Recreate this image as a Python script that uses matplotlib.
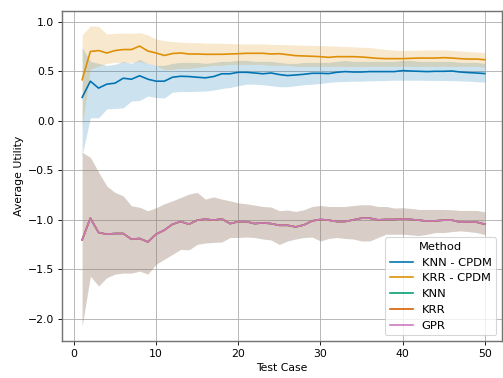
import numpy as np
import matplotlib
matplotlib.use("Agg")
import matplotlib.pyplot as plt

# test cases
test_case = list(range(1, 51))

# KNN - CPDM: mean, lower, upper
knn_cpdm = [0.236, 0.40, 0.33, 0.37, 0.38, 0.43, 0.42, 0.455, 0.42, 0.40,
            0.40, 0.44, 0.45, 0.447, 0.44, 0.434, 0.447, 0.475, 0.475, 0.49,
            0.49, 0.483, 0.475, 0.483, 0.467, 0.457, 0.463, 0.47, 0.48, 0.48,
            0.477, 0.49, 0.497, 0.493, 0.493, 0.497, 0.497, 0.497, 0.497, 0.507,
            0.503, 0.50, 0.497, 0.50, 0.50, 0.503, 0.493, 0.487, 0.483, 0.477]
knn_cpdm_lo = [-0.35, 0.03, 0.03, 0.12, 0.125, 0.13, 0.20, 0.205, 0.25, 0.235,
               0.23, 0.29, 0.295, 0.295, 0.298, 0.30, 0.31, 0.326, 0.336, 0.354,
               0.37, 0.37, 0.364, 0.354, 0.344, 0.344, 0.354, 0.364, 0.37, 0.377,
               0.388, 0.394, 0.397, 0.40, 0.40, 0.403, 0.405, 0.407, 0.41, 0.41,
               0.41, 0.41, 0.408, 0.408, 0.407, 0.405, 0.403, 0.40, 0.395, 0.39]
knn_cpdm_hi = [0.74, 0.60, 0.58, 0.56, 0.57, 0.60, 0.58, 0.62, 0.58, 0.56,
               0.56, 0.58, 0.59, 0.59, 0.59, 0.58, 0.59, 0.60, 0.60, 0.61,
               0.61, 0.60, 0.60, 0.60, 0.59, 0.58, 0.58, 0.59, 0.59, 0.59,
               0.59, 0.60, 0.61, 0.60, 0.60, 0.60, 0.60, 0.60, 0.60, 0.61,
               0.61, 0.60, 0.60, 0.60, 0.60, 0.60, 0.59, 0.59, 0.59, 0.58]

# KRR - CPDM: mean, lower, upper
krr_cpdm = [0.415, 0.70, 0.71, 0.685, 0.71, 0.72, 0.72, 0.755, 0.705, 0.685,
            0.66, 0.68, 0.685, 0.675, 0.675, 0.672, 0.672, 0.672, 0.675, 0.678,
            0.682, 0.682, 0.682, 0.675, 0.678, 0.668, 0.658, 0.655, 0.652, 0.648,
            0.641, 0.648, 0.648, 0.648, 0.645, 0.638, 0.631, 0.628, 0.628, 0.628,
            0.631, 0.634, 0.634, 0.634, 0.638, 0.634, 0.628, 0.624, 0.624, 0.617]
krr_cpdm_lo = [-0.07, 0.52, 0.55, 0.58, 0.59, 0.59, 0.59, 0.60, 0.58, 0.56,
               0.52, 0.52, 0.53, 0.53, 0.54, 0.55, 0.56, 0.56, 0.57, 0.57,
               0.57, 0.57, 0.57, 0.56, 0.56, 0.56, 0.55, 0.55, 0.55, 0.55,
               0.55, 0.55, 0.55, 0.55, 0.55, 0.55, 0.55, 0.55, 0.55, 0.55,
               0.55, 0.55, 0.55, 0.55, 0.55, 0.55, 0.55, 0.55, 0.55, 0.54]
krr_cpdm_hi = [0.867, 0.958, 0.955, 0.877, 0.884, 0.887, 0.884, 0.891, 0.867, 0.826,
               0.81, 0.80, 0.795, 0.79, 0.79, 0.785, 0.785, 0.783, 0.78, 0.778,
               0.776, 0.776, 0.776, 0.772, 0.77, 0.768, 0.766, 0.764, 0.762, 0.76,
               0.757, 0.754, 0.75, 0.747, 0.743, 0.74, 0.73, 0.72, 0.715, 0.71,
               0.712, 0.714, 0.716, 0.716, 0.716, 0.712, 0.705, 0.70, 0.695, 0.69]

# baseline methods (KNN, KRR, GPR overlap almost exactly)
base_mean = [-1.204, -0.985, -1.13, -1.147, -1.14, -1.14, -1.198, -1.19, -1.225, -1.147,
             -1.106, -1.046, -1.019, -1.046, -1.005, -0.995, -1.005, -0.992, -1.04, -1.02,
             -1.02, -1.04, -1.032, -1.04, -1.057, -1.057, -1.073, -1.053, -1.012, -0.998,
             -1.005, -1.019, -1.019, -1.002, -0.985, -0.985, -1.002, -0.998, -0.998, -0.992,
             -0.998, -1.005, -1.015, -1.012, -1.005, -1.005, -1.025, -1.022, -1.025, -1.046]
base_lo = [-2.075, -1.57, -1.67, -1.586, -1.55, -1.54, -1.54, -1.52, -1.55, -1.45,
           -1.40, -1.35, -1.30, -1.305, -1.25, -1.235, -1.23, -1.225, -1.18, -1.18,
           -1.175, -1.18, -1.195, -1.205, -1.25, -1.215, -1.195, -1.18, -1.175, -1.215,
           -1.19, -1.18, -1.19, -1.195, -1.215, -1.215, -1.18, -1.147, -1.147, -1.147,
           -1.153, -1.16, -1.147, -1.13, -1.13, -1.12, -1.113, -1.12, -1.13, -1.15]
base_hi = [-0.32, -0.37, -0.52, -0.66, -0.725, -0.76, -0.86, -0.875, -0.91, -0.88,
           -0.84, -0.81, -0.776, -0.742, -0.725, -0.793, -0.77, -0.793, -0.81, -0.83,
           -0.84, -0.853, -0.867, -0.873, -0.91, -0.903, -0.917, -0.9, -0.867, -0.857,
           -0.867, -0.867, -0.867, -0.857, -0.85, -0.85, -0.867, -0.867, -0.883, -0.88,
           -0.887, -0.897, -0.897, -0.897, -0.897, -0.90, -0.907, -0.907, -0.907, -0.92]

methods = ["KNN - CPDM", "KRR - CPDM", "KNN", "KRR", "GPR"]
colors = ["#0173B2", "#DE8F05", "#029E73", "#D55E00", "#CC78BC"]
fill_alpha = [0.2, 0.2, 0.14, 0.14, 0.14]
series = [
    (knn_cpdm, knn_cpdm_lo, knn_cpdm_hi),
    (krr_cpdm, krr_cpdm_lo, krr_cpdm_hi),
    (base_mean, base_lo, base_hi),
    (base_mean, base_lo, base_hi),
    (base_mean, base_lo, base_hi),
]

fig = plt.figure(figsize=(503 / 78.7, 378 / 78.7), dpi=78.7)
ax = fig.add_axes([62 / 503, 37 / 378, 440 / 503, 330 / 378])

x = np.array(test_case)
for name, col, a, (m, lo, hi) in zip(methods, colors, fill_alpha, series):
    ax.fill_between(x, lo, hi, color=col, alpha=a, linewidth=0)
    ax.plot(x, m, color=col, lw=1.5, label=name)

ax.set_xlim(-1.45, 52.1)
ax.set_xticks([0, 10, 20, 30, 40, 50])
ax.set_yticks([-2.0, -1.5, -1.0, -0.5, 0.0, 0.5, 1.0])
ax.grid(True)
ax.set_axisbelow(True)
for s in ax.spines.values():
    s.set_color("0.45")
    s.set_linewidth(1.3)
ax.set_xlabel("Test Case")
ax.set_ylabel("Average Utility")
ax.legend(title="Method", loc="lower right", fontsize=10.5, title_fontsize=10.5)

fig.savefig("out.png", dpi=78.7)
